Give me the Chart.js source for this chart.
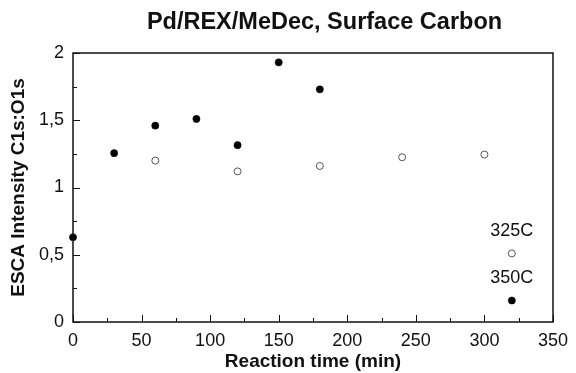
<!DOCTYPE html>
<html>
<head>
<meta charset="utf-8">
<script src="https://cdn.jsdelivr.net/npm/chart.js@4.4.1/dist/chart.umd.min.js"></script>
<style>
  html, body { margin: 0; padding: 0; background: #fff; }
  #wrap { width: 576px; height: 373px; }
</style>
</head>
<body>
<div id="wrap"><canvas id="c" width="576" height="373"></canvas></div>
<script>
// ---- data ----
const chartTitle = "Pd/REX/MeDec, Surface Carbon";
const xAxisTitle = "Reaction time (min)";
const yAxisTitle = "ESCA Intensity C1s:O1s";

const filledTime = [0, 30, 60, 90, 120, 150, 180, 320];
const filledValue = [0.63, 1.255, 1.46, 1.51, 1.315, 1.93, 1.73, 0.16];

const openTime = [60, 120, 180, 240, 300, 320];
const openValue = [1.2, 1.12, 1.16, 1.225, 1.245, 0.51];

const labelText = ["325C", "350C"];
const labelTime = [320, 320];
const labelValue = [0.675, 0.325];

const xMin = 0, xMax = 350, xStep = 50;
const yMin = 0, yMax = 2, yStep = 0.5;

const FONT = "'Liberation Sans', Arial, Helvetica, sans-serif";

const framePlugin = {
  id: 'frame',
  afterDraw(chart) {
    const ctx = chart.ctx;
    const a = chart.chartArea;
    const xs = chart.scales.x, ys = chart.scales.y;
    ctx.save();
    ctx.strokeStyle = '#111';
    ctx.lineWidth = 1.5;
    ctx.strokeRect(a.left, a.top, a.right - a.left, a.bottom - a.top);
    // inward ticks
    ctx.lineWidth = 1;
    ctx.beginPath();
    for (let v = xMin; v <= xMax + 1e-9; v += xStep / 2) {
      const px = Math.round(xs.getPixelForValue(v)) + 0.5;
      const major = Math.abs((v / xStep) - Math.round(v / xStep)) < 1e-6;
      const len = major ? 7 : 4;
      ctx.moveTo(px, a.bottom);
      ctx.lineTo(px, a.bottom - len);
    }
    for (let v = yMin; v <= yMax + 1e-9; v += yStep / 2) {
      const py = Math.round(ys.getPixelForValue(v)) + 0.5;
      const major = Math.abs((v / yStep) - Math.round(v / yStep)) < 1e-6;
      const len = major ? 7 : 4;
      ctx.moveTo(a.left, py);
      ctx.lineTo(a.left + len, py);
    }
    ctx.stroke();
    // annotations
    ctx.fillStyle = '#111';
    ctx.font = "18px " + FONT;
    ctx.textAlign = 'center';
    ctx.textBaseline = 'middle';
    for (let i = 0; i < labelText.length; i++) {
      ctx.fillText(labelText[i], xs.getPixelForValue(labelTime[i]), ys.getPixelForValue(labelValue[i]));
    }
    // chart title
    ctx.font = "bold 23.5px " + FONT;
    ctx.fillText(chartTitle, 324.5, 23);
    ctx.restore();
  }
};

new Chart(document.getElementById('c'), {
  type: 'scatter',
  data: {
    datasets: [
      {
        label: '350C',
        data: filledTime.map((t, i) => ({ x: t, y: filledValue[i] })),
        pointStyle: 'circle',
        pointRadius: 3.6,
        pointBackgroundColor: '#000',
        pointBorderColor: '#000',
        pointBorderWidth: 0.5,
        clip: false
      },
      {
        label: '325C',
        data: openTime.map((t, i) => ({ x: t, y: openValue[i] })),
        pointStyle: 'circle',
        pointRadius: 3.5,
        pointBackgroundColor: '#fff',
        pointBorderColor: '#555',
        pointBorderWidth: 1,
        clip: false
      }
    ]
  },
  options: {
    responsive: false,
    animation: false,
    devicePixelRatio: 1,
    layout: { padding: { left: 0, right: 17, top: 53, bottom: 0 } },
    plugins: {
      legend: { display: false },
      title: { display: false },
      tooltip: { enabled: false }
    },
    scales: {
      x: {
        type: 'linear',
        min: xMin, max: xMax,
        afterFit(s) { s.height = 51; },
        border: { display: false },
        grid: { display: false, drawTicks: false },
        ticks: {
          stepSize: xStep,
          padding: 8,
          color: '#111',
          font: { family: FONT, size: 18 },
          maxRotation: 0
        },
        title: {
          display: true,
          text: xAxisTitle,
          color: '#111',
          font: { family: FONT, size: 19, weight: 'bold' },
          padding: { top: 0, bottom: 0 }
        }
      },
      y: {
        type: 'linear',
        min: yMin, max: yMax,
        afterFit(s) { s.width = 73; },
        border: { display: false },
        grid: { display: false, drawTicks: false },
        ticks: {
          stepSize: yStep,
          padding: 9,
          color: '#111',
          font: { family: FONT, size: 18 },
          callback: (v) => String(v).replace('.', ',')
        },
        title: {
          display: true,
          text: yAxisTitle,
          color: '#111',
          font: { family: FONT, size: 19, weight: 'bold' },
          padding: { top: 7, bottom: 0 }
        }
      }
    }
  },
  plugins: [framePlugin]
});
</script>
</body>
</html>
